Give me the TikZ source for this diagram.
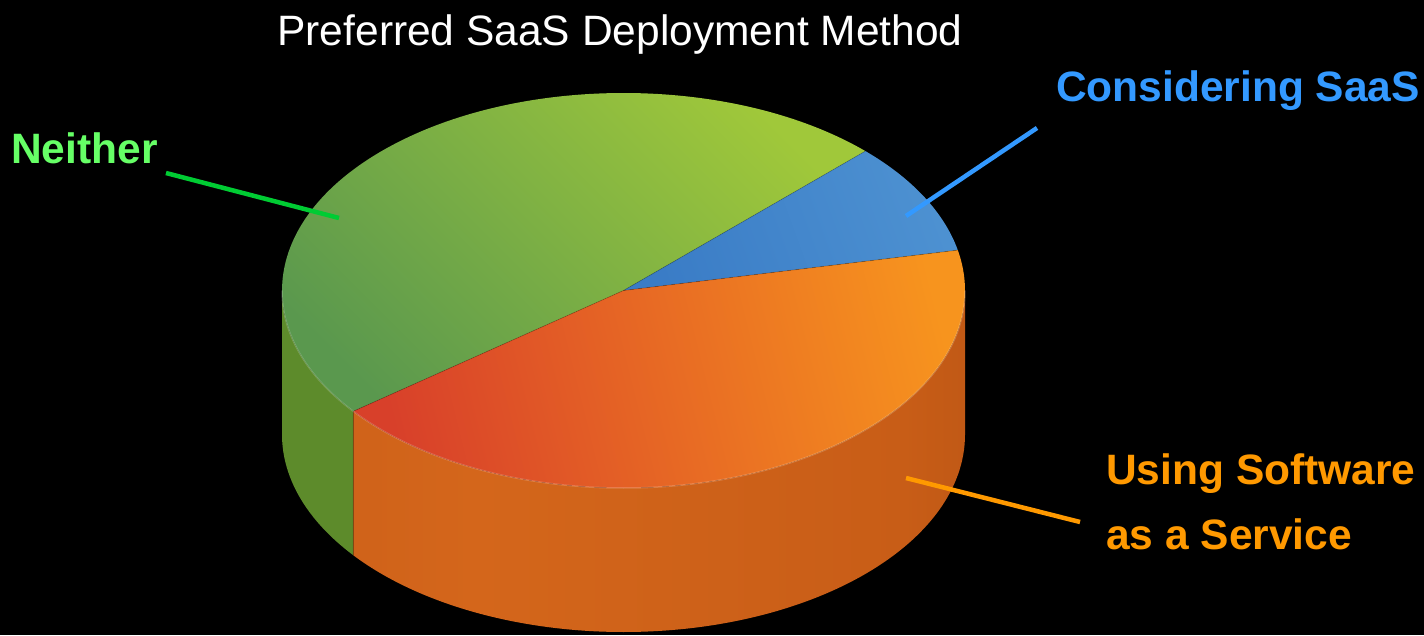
\documentclass[tikz,border=0pt]{standalone}
\usepackage{fontspec}
\setmainfont{Liberation Sans}
\usetikzlibrary{calc}

\definecolor{greenTopLight}{HTML}{A0C83A}
\definecolor{greenTopMid}{HTML}{88B43E}
\definecolor{greenTopDark}{HTML}{5A984E}
\definecolor{greenSide}{HTML}{5D8B2B}
\definecolor{blueTopOuter}{HTML}{4D91D1}
\definecolor{blueTopInner}{HTML}{3A7CC6}
\definecolor{orangeTopLight}{HTML}{F7941E}
\definecolor{orangeTopMid}{HTML}{E6702A}
\definecolor{orangeTopRed}{HTML}{D8402A}
\definecolor{orSideA}{HTML}{C45A18}
\definecolor{orSideB}{HTML}{D4661B}
\definecolor{orSideC}{HTML}{C85D17}
\definecolor{orSideD}{HTML}{B35112}
\definecolor{orSideE}{HTML}{9A460E}
\definecolor{labelGreen}{HTML}{66FF66}
\definecolor{leaderGreen}{HTML}{00CC33}
\definecolor{labelBlue}{HTML}{3399FF}
\definecolor{labelOrange}{HTML}{FF9900}

\pgfdeclarehorizontalshading{orangeside}{100bp}{%
  color(0bp)=(orSideA); color(35bp)=(orSideB); color(70bp)=(orSideC);
  color(85bp)=(orSideD); color(100bp)=(orSideE)}

\tikzset{
  pie/.style={x radius=341.5, y radius=197.5},
  labeltext/.style={inner sep=0pt, font=\fontsize{42.5}{65}\selectfont\bfseries},
  leader/.style={line width=4.5pt, line cap=butt},
  rim/.style={draw=white, draw opacity=0.18, line width=1.5pt},
  seam/.style={draw=black, draw opacity=0.18, line width=0.8pt},
}

\begin{document}
\begin{tikzpicture}[x=1pt,y=1pt]
  % black page
  \fill[black] (0,0) rectangle (1424,635);
  \useasboundingbox (0,0) rectangle (1424,635);

  % centre of the top face; radii 341.5 x 197.5, thickness 144
  \coordinate (C) at (623.5,344.5);

  % ---- side walls ----
  \fill[greenSide]
    (C) ++(180:341.5 and 197.5) arc[start angle=180, end angle=217.7, pie]
    -- ++(0,-144) arc[start angle=217.7, end angle=180, pie] -- cycle;
  \shade[shading=orangeside]
    (C) ++(217.7:341.5 and 197.5) arc[start angle=217.7, end angle=360, pie]
    -- ++(0,-144) arc[start angle=360, end angle=217.7, pie] -- cycle;

  % ---- top face ----
  \shade[top color=greenTopLight, middle color=greenTopMid, bottom color=greenTopDark, shading angle=-45]
    (C) -- ++(44.9:341.5 and 197.5) arc[start angle=44.9, end angle=217.7, pie] -- cycle;
  \shade[top color=blueTopOuter, bottom color=blueTopInner, shading angle=-70]
    (C) -- ++(11.8:341.5 and 197.5) arc[start angle=11.8, end angle=44.9, pie] -- cycle;
  \shade[top color=orangeTopLight, middle color=orangeTopMid, bottom color=orangeTopRed, shading angle=-76]
    (C) -- ++(217.7:341.5 and 197.5) arc[start angle=217.7, end angle=371.8, pie] -- cycle;

  % seams between slices and the lit front rim
  \path[seam] (C) -- ++(11.8:341.5 and 197.5);
  \path[seam] (C) -- ++(44.9:341.5 and 197.5);
  \path[seam] (C) -- ++(217.7:341.5 and 197.5) -- ++(0,-144);
  \path[rim] (C) ++(180:341.5 and 197.5) arc[start angle=180, end angle=360, pie];

  % ---- title ----
  \node[inner sep=0pt, anchor=base, text=white, font=\fontsize{42.5}{50}\selectfont]
    (title) at (620,589) {Preferred SaaS Deployment Method};

  % ---- labels ----
  \node[labeltext, anchor=base west, text=labelGreen] (neither) at (11,471) {Neither};
  \node[labeltext, anchor=base west, text=labelBlue] (considering) at (1056,533) {Considering SaaS};
  \node[labeltext, anchor=base west, text=labelOrange] (using) at (1106,150)
    {\begin{tabular}[t]{@{}l@{}}Using Software\\as a Service\end{tabular}};

  % ---- leader lines ----
  \coordinate (neitherA) at (166,462);
  \coordinate (neitherB) at (339,417);
  \coordinate (considA) at (1037,507);
  \coordinate (considB) at (906,419);
  \coordinate (usingA) at (1080,113);
  \coordinate (usingB) at (906,157);
  \draw[leader, leaderGreen] (neitherA) -- (neitherB);
  \draw[leader, labelBlue] (considA) -- (considB);
  \draw[leader, labelOrange] (usingA) -- (usingB);
\end{tikzpicture}
\end{document}
